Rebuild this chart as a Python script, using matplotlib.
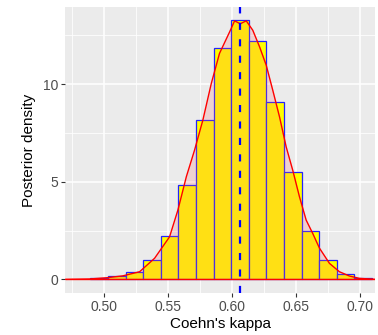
from __future__ import annotations
import numpy as np
import matplotlib.pyplot as plt
from matplotlib.ticker import MultipleLocator

# Posterior draws of Cohen's kappa, binned (density scale)
bin_start = 0.4894
bin_width = 0.01375
hist_density = [0.05, 0.15, 0.36, 1.00, 2.23, 4.83, 8.15, 11.88,
                13.30, 12.24, 9.10, 5.48, 2.49, 1.00, 0.27, 0.07]

# Kernel density estimate of the same draws
kde_x = [0.4700, 0.4888, 0.5019, 0.5148, 0.5278, 0.5356, 0.5395, 0.5512,
         0.5577, 0.5643, 0.5707, 0.5772, 0.5838, 0.5902, 0.5981, 0.6020,
         0.6064, 0.6111, 0.6162, 0.6215, 0.6267, 0.6318, 0.6371, 0.6423,
         0.6474, 0.6527, 0.6579, 0.6630, 0.6683, 0.6761, 0.6839, 0.6917,
         0.6995, 0.7096, 0.7117]
kde_y = [0.00, 0.02, 0.08, 0.18, 0.39, 0.85, 1.08, 2.18,
         3.55, 5.26, 6.62, 8.16, 10.04, 11.58, 12.68, 13.25,
         13.10, 13.25, 12.77, 11.92, 10.98, 9.70, 8.33, 6.79,
         5.60, 4.23, 3.04, 2.36, 1.60, 0.82, 0.39, 0.17,
         0.05, 0.01, 0.00]

kappa_mean = 0.6066

xticks = [0.50, 0.55, 0.60, 0.65, 0.70]
yticks = [0, 5, 10]

plt.rcParams["font.family"] = ["Liberation Sans", "DejaVu Sans"]

fig = plt.figure(figsize=(3.78, 3.35), dpi=100)
ax = fig.add_axes([65 / 378, 42 / 335, 310 / 378, 286 / 335])

# ggplot2-like panel: grey background, white major/minor grid
ax.set_facecolor("#EBEBEB")
for s in ax.spines.values():
    s.set_visible(False)
ax.xaxis.set_minor_locator(MultipleLocator(0.025))
ax.yaxis.set_minor_locator(MultipleLocator(2.5))
ax.grid(which="major", color="white", lw=1.1)
ax.grid(which="minor", color="white", lw=0.55)
ax.set_axisbelow(True)

# histogram bars
edges = bin_start + bin_width * np.arange(len(hist_density))
ax.bar(edges, hist_density, width=bin_width, align="edge",
       color="#FFFF00", edgecolor="#2222FF", linewidth=0.9, zorder=2)

# density area on top of the bars
ax.fill_between(kde_x, kde_y, 0, color="#FF6666", alpha=0.2, lw=0, zorder=3)
ax.plot(kde_x, kde_y, color="red", lw=1.0, zorder=4)
ax.plot([kde_x[0], kde_x[-1]], [0, 0], color="red", lw=1.0, zorder=4)

# posterior mean
ax.axvline(kappa_mean, color="#0000FF", lw=1.6, ls=(0, (3.2, 4.2)), zorder=5)

ax.set_xlim(0.4695, 0.7117)
ax.set_ylim(-0.70, 13.96)
ax.set_xticks(xticks)
ax.set_xticklabels([f"{v:.2f}" for v in xticks])
ax.set_yticks(yticks)
ax.tick_params(which="major", length=3, width=0.8, color="#333333",
               labelsize=10, labelcolor="#4D4D4D", pad=2)
ax.tick_params(which="minor", length=0)

ax.set_xlabel("Coehn's kappa", fontsize=11, color="black", labelpad=2)
ax.set_ylabel("Posterior density", fontsize=11, color="black", labelpad=5)

fig.savefig("out.png", dpi=100)
